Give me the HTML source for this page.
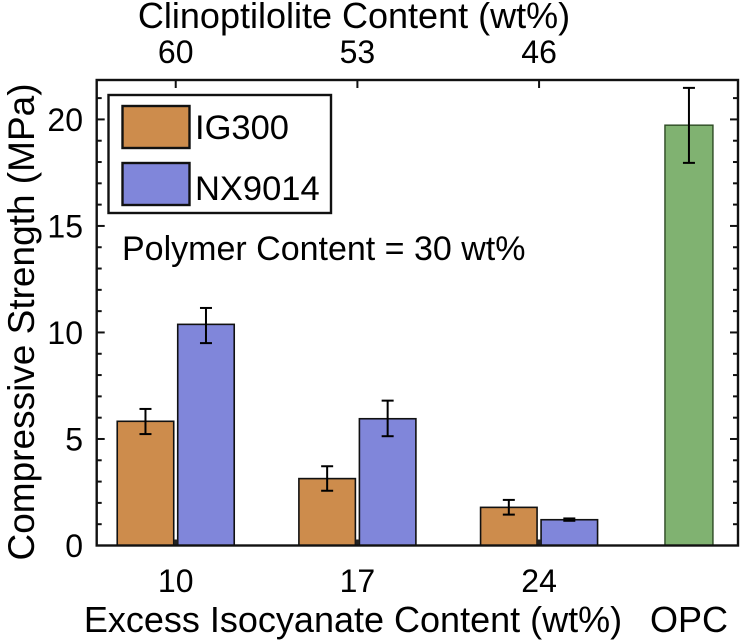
<!DOCTYPE html>
<html><head><meta charset="utf-8"><style>
html,body{margin:0;padding:0;background:#fff}
svg{display:block;font-family:"Liberation Sans",Arial,sans-serif}
</style></head><body>
<svg id="chart" width="740" height="644" viewBox="0 0 740 644">
<g id="marks"></g>
<g id="axes"></g>
</svg>
<script>
const categories = ["10", "17", "24"];
const topLabels = ["60", "53", "46"];
const ig300 = [5.83, 3.14, 1.79];
const ig300Hi = [6.41, 3.72, 2.14];
const ig300Lo = [5.23, 2.57, 1.45];
const nx9014 = [10.38, 5.95, 1.21];
const nx9014Hi = [11.15, 6.8, 1.27];
const nx9014Lo = [9.5, 5.13, 1.16];
const opcValue = [19.73];
const opcHi = [21.48];
const opcLo = [17.96];
const opcPos = [2.825];
const yTicks = [0, 5, 10, 15, 20];

const NS = "http://www.w3.org/2000/svg";
const L = 96.7, R = 738, T = 80, B = 545.5;
const xMin = -0.435, xMax = 3.095, yMin = 0, yMax = 21.85;
const xs = v => L + (v - xMin) / (xMax - xMin) * (R - L);
const ys = v => B - (v - yMin) / (yMax - yMin) * (B - T);
const marks = document.getElementById('marks');
const axes = document.getElementById('axes');
const svg = document.getElementById('chart');
function mk(tag, attrs, parent) {
  const e = document.createElementNS(NS, tag);
  for (const k in attrs) e.setAttribute(k, attrs[k]);
  parent.appendChild(e);
  return e;
}
const barW = 56.5, gap = 2;
function bar(cx, v, fill, name) {
  const r = mk('rect', {x: cx, y: ys(v), width: barW, height: B - ys(v), fill: fill, stroke: '#111', 'stroke-width': 1.6}, marks);
  
  
}
function err(cx, lo, hi, name) {
  const g = mk('g', {stroke: '#000', 'stroke-width': 2}, marks);
  
  
  mk('line', {x1: cx, x2: cx, y1: ys(lo), y2: ys(hi)}, g);
  mk('line', {x1: cx - 6, x2: cx + 6, y1: ys(lo), y2: ys(lo)}, g);
  mk('line', {x1: cx - 6, x2: cx + 6, y1: ys(hi), y2: ys(hi)}, g);
}
categories.forEach((c, i) => {
  const cx = xs(i);
  bar(cx - gap - barW, ig300[i], '#CD8C4C', 'bar-ig300-' + c);
  bar(cx + gap, nx9014[i], '#8086DA', 'bar-nx9014-' + c);
  err(cx - gap - barW / 2, ig300Lo[i], ig300Hi[i], 'error-bar-ig300-' + c);
  err(cx + gap + barW / 2, nx9014Lo[i], nx9014Hi[i], 'error-bar-nx9014-' + c);
  const t = mk('text', {x: cx, y: 592, 'font-size': 32, 'text-anchor': 'middle'}, axes);
  t.textContent = c;
  
  
  mk('line', {x1: cx, x2: cx, y1: B, y2: B - 6, stroke: '#222', 'stroke-width': 4}, axes);
  const tt = mk('text', {x: cx, y: 63, 'font-size': 32, 'text-anchor': 'middle'}, axes);
  tt.textContent = topLabels[i];
  
  
  mk('line', {x1: cx, x2: cx, y1: T, y2: T + 8, stroke: '#111', 'stroke-width': 2}, axes);
});
{
  const cx = xs(opcPos[0]);
  const r = mk('rect', {x: cx - 24, y: ys(opcValue[0]), width: 48, height: B - ys(opcValue[0]), fill: '#80B271', stroke: '#2d4a24', 'stroke-width': 1.4}, marks);
  
  
  err(cx, opcLo[0], opcHi[0], 'error-bar-opc');
  const t = mk('text', {x: cx, y: 632, 'font-size': 36, 'text-anchor': 'middle'}, axes);
  t.textContent = 'OPC';
  
  
}
for (let v = 0; v <= 21; v++) {
  const y = ys(v), len = v % 5 === 0 ? 8 : 5;
  mk('line', {x1: L, x2: L + len, y1: y, y2: y, stroke: '#111', 'stroke-width': 2}, axes);
  mk('line', {x1: R, x2: R - len, y1: y, y2: y, stroke: '#111', 'stroke-width': 2}, axes);
}
yTicks.forEach(v => {
  const t = mk('text', {x: 83, y: ys(v) + 11.5, 'font-size': 32, 'text-anchor': 'end'}, axes);
  t.textContent = v;
  
  
});
const frame = mk('rect', {x: L, y: T, width: R - L, height: B - T, fill: 'none', stroke: '#111', 'stroke-width': 2.4}, axes);



let t = mk('text', {x: 354, y: 28, 'font-size': 36, 'text-anchor': 'middle'}, svg);
t.textContent = 'Clinoptilolite Content (wt%)';


t = mk('text', {x: 353, y: 632, 'font-size': 36, 'text-anchor': 'middle'}, svg);
t.textContent = 'Excess Isocyanate Content (wt%)';


t = mk('text', {x: 0, y: 0, 'font-size': 37, 'text-anchor': 'middle', transform: 'translate(34,322) rotate(-90)'}, svg);
t.textContent = 'Compressive Strength (MPa)';


t = mk('text', {x: 122, y: 260, 'font-size': 34}, svg);
t.textContent = 'Polymer Content = 30 wt%';


const lg = mk('g', {}, svg);


mk('rect', {x: 108.5, y: 95, width: 222.5, height: 118, fill: '#fff', stroke: '#111', 'stroke-width': 2.4}, lg);
const e1 = mk('g', {}, lg);


mk('rect', {x: 122.5, y: 106, width: 67, height: 42, fill: '#CD8C4C', stroke: '#111', 'stroke-width': 2.4}, e1);
let tt = mk('text', {x: 195, y: 139, 'font-size': 34.5}, e1);
tt.textContent = 'IG300';
const e2 = mk('g', {}, lg);


mk('rect', {x: 122.5, y: 163, width: 67, height: 42, fill: '#8086DA', stroke: '#111', 'stroke-width': 2.4}, e2);
tt = mk('text', {x: 195, y: 200, 'font-size': 34.5}, e2);
tt.textContent = 'NX9014';
</script>
</body></html>
